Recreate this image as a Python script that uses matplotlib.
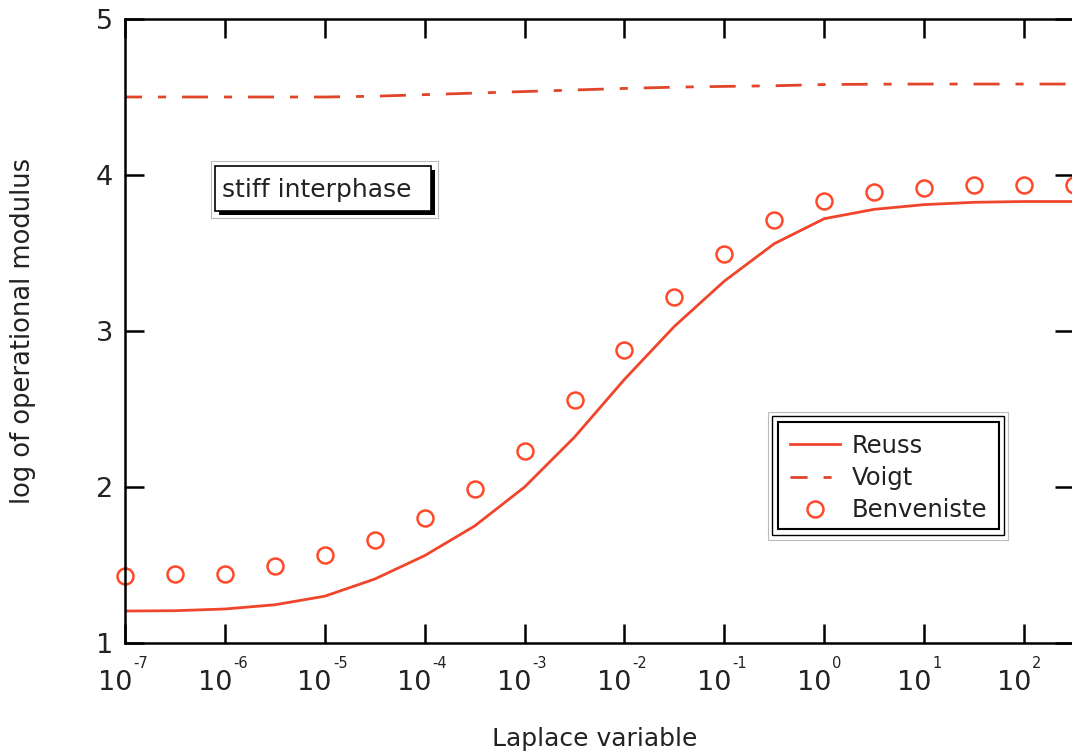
import numpy as np
import matplotlib
matplotlib.use("Agg")
import matplotlib.pyplot as plt
import matplotlib.transforms as mtransforms
from matplotlib.patches import Rectangle
from matplotlib.ticker import FixedLocator, NullFormatter, NullLocator

# log10 of the Laplace variable, half-decade steps
log_s = [-7.0, -6.5, -6.0, -5.5, -5.0, -4.5, -4.0, -3.5, -3.0, -2.5,
         -2.0, -1.5, -1.0, -0.5, 0.0, 0.5, 1.0, 1.5, 2.0, 2.5]

# log of operational modulus for each bound / estimate
reuss = [1.205, 1.207, 1.218, 1.245, 1.30, 1.41, 1.56, 1.75, 2.00, 2.32,
         2.69, 3.03, 3.32, 3.56, 3.72, 3.78, 3.81, 3.825, 3.83, 3.83]
voigt = [4.50, 4.50, 4.50, 4.50, 4.50, 4.505, 4.515, 4.525, 4.535, 4.545,
         4.555, 4.563, 4.568, 4.572, 4.58, 4.582, 4.583, 4.583, 4.583, 4.583]
benveniste = [1.43, 1.444, 1.444, 1.495, 1.563, 1.66, 1.80, 1.99, 2.23, 2.555,
              2.88, 3.22, 3.495, 3.714, 3.836, 3.893, 3.918, 3.938, 3.938, 3.938]

x_decades = [-7, -6, -5, -4, -3, -2, -1, 0, 1, 2]
y_ticks = [1, 2, 3, 4, 5]

W, H = 1072, 755
TXT = "#222222"
RED = "#f0452a"


def fig_box(x0, y0, x1, y1):
    # pixel box (top-left origin) -> figure fraction rectangle args
    return (x0 / W, 1 - y1 / H), (x1 - x0) / W, (y1 - y0) / H


fig = plt.figure(figsize=(W / 100, H / 100), dpi=100)
ax = fig.add_axes([125 / W, (H - 643) / H, (1074 - 125) / W, (643 - 19) / H])

s = 10.0 ** np.array(log_s)
ax.plot(s, reuss, color=RED, lw=2.0, label="Reuss")
ax.plot(s, voigt, color="#e0452a", lw=2.0,
        ls=(3.2, (9.35, 5.75, 2.9, 5.75)), label="Voigt")
ax.plot(s, benveniste, "o", mfc="none", mec="#ff4a2a", mew=1.8, ms=11.5,
        clip_on=False, label="Benveniste")

ax.set_xscale("log")
ax.set_xlim(1e-7, 10 ** 2.5)
ax.set_ylim(1, 5)

ax.xaxis.set_major_locator(FixedLocator([10.0 ** d for d in x_decades]))
ax.xaxis.set_minor_locator(NullLocator())
ax.xaxis.set_major_formatter(NullFormatter())
ax.yaxis.set_major_locator(FixedLocator(y_ticks))

for sp in ax.spines.values():
    sp.set_linewidth(1.8)
ax.tick_params(which="major", direction="in", length=13.7, width=1.8,
               top=True, right=True, labelsize=19.5, labelcolor=TXT)
ax.tick_params(axis="y", pad=8.6)

# decade labels: "10" with a small raised exponent
xt = ax.get_xaxis_transform()
base_tr = mtransforms.offset_copy(xt, fig=fig, x=7, y=-47, units="dots")
exp_tr = mtransforms.offset_copy(xt, fig=fig, x=8, y=-25, units="dots")
for d in x_decades:
    ax.text(10.0 ** d, 0, "10", transform=base_tr, ha="right", va="baseline",
            fontsize=19.5, color=TXT)
    ax.text(10.0 ** d, 0, "%d" % d, transform=exp_tr, ha="left", va="baseline",
            fontsize=10.5, color=TXT)

ax.set_xlabel("Laplace variable", fontsize=18, color=TXT, labelpad=0)
ax.xaxis.set_label_coords(0.495, -0.135)
ax.set_ylabel("log of operational modulus", fontsize=18.5, color=TXT, labelpad=43)

# annotation box with drop shadow
for (xy, w, h), kw in [
    (fig_box(211, 161, 438, 218), dict(fc="none", ec="#bbbbbb", lw=0.8)),
    (fig_box(219, 170, 435, 215), dict(fc="black", ec="black", lw=0)),
    (fig_box(215, 166, 431, 211), dict(fc="white", ec="black", lw=1.2)),
]:
    ax.add_patch(Rectangle(xy, w, h, transform=fig.transFigure,
                           clip_on=False, zorder=4, **kw))
ax.text(222 / W, 1 - 190 / H, "stiff interphase", transform=fig.transFigure,
        fontsize=18, color=TXT, ha="left", va="center", zorder=5)

# legend with triple frame
for (xy, w, h), kw in [
    (fig_box(768, 412, 1008, 540), dict(fc="white", ec="#bbbbbb", lw=0.8)),
    (fig_box(772, 416, 1004, 535), dict(fc="none", ec="black", lw=1.0)),
    (fig_box(778, 422, 999, 529), dict(fc="none", ec="black", lw=1.5)),
]:
    ax.add_patch(Rectangle(xy, w, h, transform=fig.transFigure,
                           clip_on=False, zorder=4, **kw))
leg = ax.legend(loc="upper left", bbox_to_anchor=(790 / W, 1 - 434 / H),
                bbox_transform=fig.transFigure, frameon=False, fontsize=17.5,
                borderpad=0, borderaxespad=0, handlelength=2.05,
                handletextpad=0.5, labelspacing=0.33)
for t in leg.get_texts():
    t.set_color(TXT)
leg.set_zorder(6)

fig.savefig("out.png", dpi=100)
